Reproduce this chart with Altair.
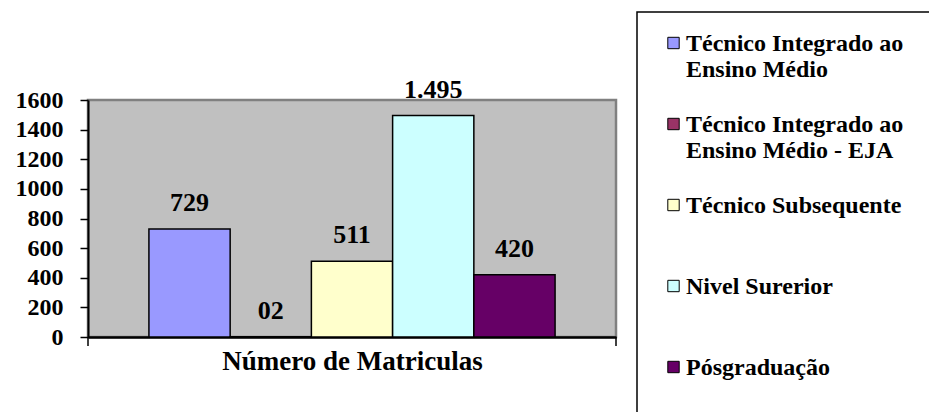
import altair as alt
import pandas as pd

# Enrollment counts per course type
series = [
    "Técnico Integrado ao Ensino Médio",
    "Técnico Integrado ao Ensino Médio - EJA",
    "Técnico Subsequente",
    "Nível Surerior",
    "Pósgraduação",
]
legend_text = [
    "Técnico Integrado ao\nEnsino Médio",
    "Técnico Integrado ao\nEnsino Médio - EJA",
    "Técnico Subsequente",
    "Nivel Surerior",
    "Pósgraduação",
]
values = [729, 2, 511, 1495, 420]
value_labels = ["729", "02", "511", "1.495", "420"]
colors = ["#9999FF", "#993366", "#FFFFCC", "#CCFFFF", "#660066"]
y_ticks = [0, 200, 400, 600, 800, 1000, 1200, 1400, 1600]

df = pd.DataFrame({
    "serie": series,
    "legenda": legend_text,
    "valor": values,
    "rotulo": value_labels,
})

FONT = "Times New Roman"
W, H = 528, 237

color_scale = alt.Scale(domain=series, range=colors)

x_axis = alt.Axis(
    labels=False, ticks=False, domainColor="black", domainWidth=2.5,
    title="Número de Matriculas", titleFont=FONT, titleFontSize=27,
    titleFontWeight="bold", titleColor="black", titlePadding=11,
)
y_axis = alt.Axis(
    values=y_ticks, format="d", labelOverlap=False, labelFlush=False,
    title=None, grid=False, tickSize=8, tickColor="black",
    tickWidth=1.5, domainColor="black", domainWidth=2, labelFont=FONT,
    labelFontSize=24, labelFontWeight="bold", labelColor="black",
    labelPadding=17,
)
x_enc = alt.X("serie:N", sort=series,
              scale=alt.Scale(paddingInner=0, paddingOuter=0.75), axis=x_axis)
y_enc = alt.Y("valor:Q", scale=alt.Scale(domain=[0, 1600], nice=False), axis=y_axis)

bars = alt.Chart(df).mark_bar(stroke="black", strokeWidth=1.5).encode(
    x=x_enc,
    y=y_enc,
    fill=alt.Fill("serie:N", scale=color_scale, legend=None),
)

labels = alt.Chart(df).mark_text(
    font=FONT, fontSize=26, fontWeight="bold", color="black",
    baseline="middle", dy=-26,
).encode(
    x=x_enc,
    y=y_enc,
    text="rotulo:N",
)

# small tick marks at both ends of the category axis
edge = pd.DataFrame({"pos": [0]})
edge_left = alt.Chart(edge).mark_rule(color="black", strokeWidth=1.5).encode(
    x=alt.value(0), y=alt.value(H), y2=alt.value(H + 9)
)
edge_right = alt.Chart(edge).mark_rule(color="black", strokeWidth=1.5).encode(
    x=alt.value(W), y=alt.value(H), y2=alt.value(H + 9)
)

main = alt.layer(bars, labels, edge_left, edge_right)

# legend panel drawn beside the plot
frame = alt.Chart(pd.DataFrame({"k": [0]})).mark_rect(
    fill="white", stroke="black", strokeWidth=1.5
).encode(
    x=alt.value(549), x2=alt.value(880), y=alt.value(-88), y2=alt.value(340)
)

leg_y = alt.Y(
    "serie:N", sort=series,
    scale=alt.Scale(type="point", range=[-57, 267], padding=0),
    axis=None,
)
leg_sq = alt.Chart(df).mark_square(size=130, stroke="black", strokeWidth=1, opacity=1).encode(
    x=alt.value(585.5),
    y=leg_y,
    fill=alt.Fill("serie:N", scale=color_scale, legend=None),
)
leg_txt = alt.Chart(df).mark_text(
    font=FONT, fontSize=24, fontWeight="bold", color="black", align="left",
    baseline="alphabetic", dy=8, lineBreak="\n", lineHeight=26,
).encode(
    x=alt.value(598),
    y=leg_y,
    text="legenda:N",
)
legend = alt.layer(frame, leg_sq, leg_txt)

chart = alt.layer(main, legend).resolve_scale(y="independent").properties(
    width=W,
    height=H,
    padding={"left": 88, "top": 100, "right": 313, "bottom": 75},
    autosize=alt.AutoSizeParams(type="none"),
    background="white",
).configure_view(fill="#C0C0C0", stroke="#808080", strokeWidth=2.5)

chart.save("out.html", embed_options={"renderer": "svg", "actions": False})
